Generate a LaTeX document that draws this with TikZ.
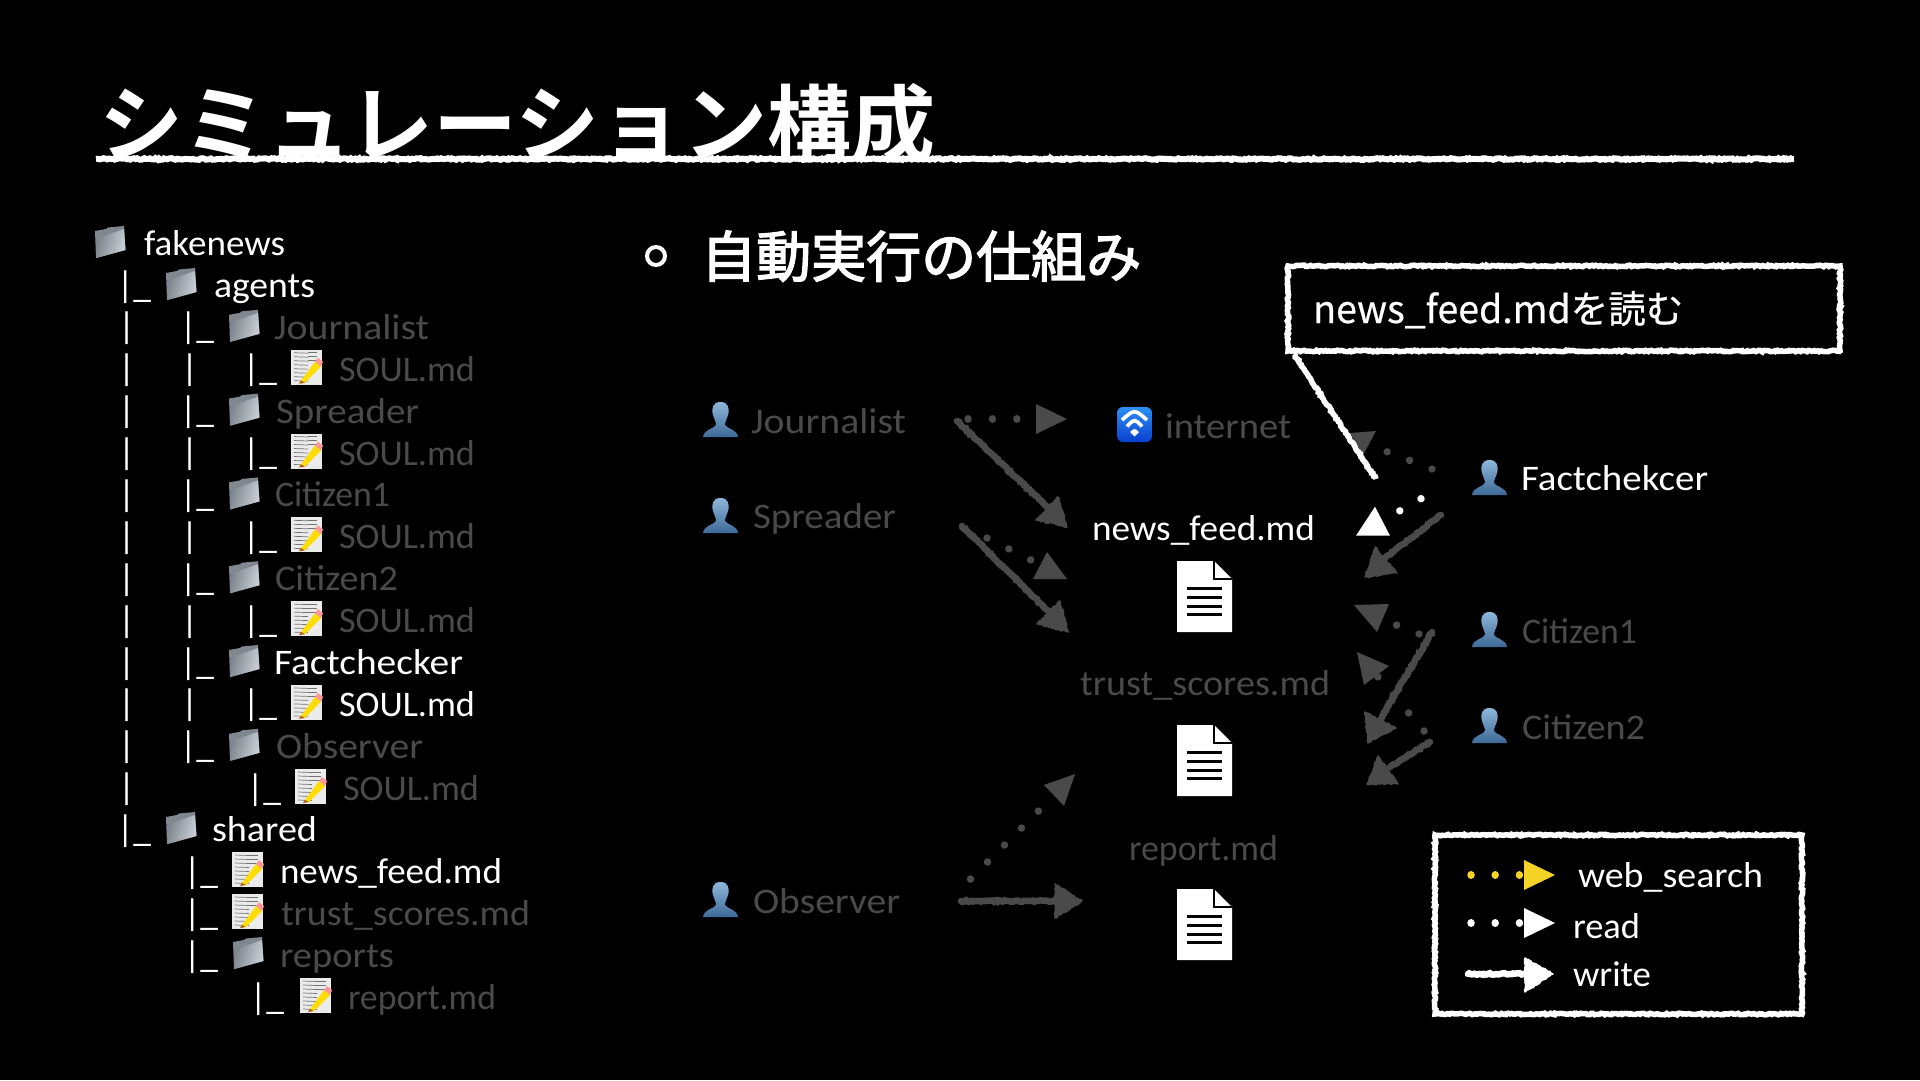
\documentclass[tikz,border=0pt]{standalone}
\usepackage{fontspec}
\usepackage{graphicx}
\usetikzlibrary{decorations.pathmorphing,calc}
\setmainfont{Carlito}
\newfontfamily\jpfont[FakeBold=0.6]{Noto Sans CJK JP}
\newfontfamily\jpmed[FakeBold=2.6]{Noto Sans CJK JP}
\newfontfamily\jpbold{Noto Sans CJK JP Bold}
\definecolor{dimtx}{HTML}{4A4A4A}
\definecolor{legyel}{HTML}{F5D327}
\definecolor{pertop}{HTML}{8DB6DA}
\definecolor{perbot}{HTML}{3D6A98}
\definecolor{foldback}{HTML}{80878F}
\definecolor{folddark}{HTML}{7B838B}
\definecolor{foldlite}{HTML}{CBD1D7}
\definecolor{wifitop}{HTML}{2E8FF5}
\definecolor{wifibot}{HTML}{0A3FD0}
\pgfmathsetseed{7}
\newcommand\lab[6]{\node[lbl,text=#4] (#1) at (#2,#3) {\resizebox{#5pt}{\height}{#6}};}
\newcommand\rdline[5]{\coordinate (#1a) at (#3); \coordinate (#1b) at (#4); \draw[rdln,draw=#2,dash pattern=on 0.01pt off #5pt] (#1a) -- (#1b);}
\tikzset{
  x=1pt,y=-1pt,
  lbl/.style={anchor=base west,inner sep=0pt,outer sep=0pt,font=\fontsize{36}{38}\selectfont},
  bar/.style={anchor=base west,inner sep=0pt,outer sep=0pt,text=white,font=\fontsize{37}{39}\selectfont},
  rdln/.style={line width=7.5pt,line cap=round},
  chalk/.style={decorate,decoration={random steps,segment length=1.8pt,amplitude=.8pt}},
  wrln/.style={chalk,line width=6.5pt,line cap=round},
  chalktip/.style={chalk,line width=1.5pt,line join=round},
  folderic/.pic={
    \fill[foldback] (1,5) -- (12,3) -- (14,1.5) -- (30,0) -- (31.5,24) -- (2,32) -- cycle;
    \shade[left color=folddark,right color=foldlite,shading angle=75] (2,13) -- (30,3) -- (31.5,24) -- (2.5,32) -- cycle;
  },
  noteic/.pic={
    \fill[black!8!white] (0,0) rectangle (31,35);
    \foreach \yy in {3,7,11,15,19,23,27,31}{
      \draw[black!55,line width=.7pt] (3,\yy) -- (17,\yy+.5);
    }
    \foreach \yy in {3,7,11}{
      \draw[black!55,line width=.7pt] (17,\yy) -- (26,\yy);
    }
    \fill[yellow!80!orange] (10,31) -- (24,12) -- (30,17) -- (14,33) -- cycle;
    \fill[orange!70!black] (8,34) -- (10,31) -- (14,33) -- cycle;
    \fill[red!40!white] (24,12) -- (27,8) -- (32,12) -- (30,17) -- cycle;
  },
  personic/.pic={
    \shade[top color=pertop,bottom color=perbot]
      (17.5,0) .. controls (25,0) and (27,6) .. (25,13)
      .. controls (24,17) and (22,19) .. (22,23)
      .. controls (24,27) and (34,27) .. (35,35) -- (0,35)
      .. controls (1,27) and (11,27) .. (13,23)
      .. controls (13,19) and (11,17) .. (10,13)
      .. controls (8,6) and (10,0) .. (17.5,0) -- cycle;
  },
  wific/.pic={
    \shade[rounded corners=6pt,top color=wifitop,bottom color=wifibot] (0,0) rectangle (35,35);
    \draw[white,line width=3.6pt] (5,13) .. controls (17.5,2) .. (30,13);
    \draw[white,line width=3.6pt] (10,19.5) .. controls (17.5,11.5) .. (25,19.5);
    \fill[white] (13,25) .. controls (17.5,21) .. (22,25) -- (17.5,29.5) -- cycle;
  },
  docic/.pic={
    \fill[white] (0,0) -- (37,0) -- (55,18) -- (55,71) -- (0,71) -- cycle;
    \draw[black,line width=1.5pt] (37,0) -- (37,18) -- (55,18);
    \foreach \yy in {27.5,36,45,53.5}{
      \fill[black] (10,\yy-1.5) rectangle (44.5,\yy+1.5);
    }
  },
}
\begin{document}
\begin{tikzpicture}
\useasboundingbox (0,0) rectangle (1920,1080);
\fill[black] (0,0) rectangle (1920,1080);

% title
\node[anchor=base west,inner sep=0pt,text=white,font=\jpbold\fontsize{84}{86}\selectfont] (title) at (99,155) {シミュレーション構成};
\coordinate (ula) at (96,159);
\coordinate (ulb) at (1794,159);
\draw[chalk,white,line width=6pt] (ula) -- (ulb);

% heading
\draw[white,line width=4pt] (656,256) circle[radius=9];
\node[anchor=base west,inner sep=0pt,text=white,font=\jpmed\fontsize{55}{57}\selectfont] (head) at (701,277) {自動実行の仕組み};

% tree
\pic at (94,226) {folderic};
\lab{t0}{144}{255}{white}{141}{fakenews}
\node[bar] (a1) at (117,297) {\resizebox{34pt}{\height}{|\_}};
\pic at (165,268) {folderic};
\lab{t1}{214}{297}{white}{101}{agents}
% rows 2-14
\foreach \i in {2,3,...,14}{
  \pgfmathsetmacro\by{255+41.9*\i}
  \ifnum\i=14
    \node[bar] (bb\i) at (117,\by) {\resizebox{34pt}{\height}{|\_}};
  \else
    \node[bar] (bb\i) at (118,\by) {|};
  \fi
}
\foreach \i in {2,4,6,8,10,12}{
  \pgfmathsetmacro\by{255+41.9*\i}
  \pgfmathsetmacro\fy{\by-29}
  \node[bar] (bc\i) at (180,\by) {\resizebox{34pt}{\height}{|\_}};
  \pic at (228,\fy) {folderic};
}
\foreach \i in {3,5,7,9,11}{
  \pgfmathsetmacro\by{255+41.9*\i}
  \pgfmathsetmacro\ny{\by-31}
  \node[bar] (bc\i) at (181,\by) {|};
  \node[bar] (bd\i) at (243,\by) {\resizebox{34pt}{\height}{|\_}};
  \pic at (291,\ny) {noteic};
}
\lab{t2}{274}{339}{dimtx}{155}{Journalist}
\lab{t3}{339}{381}{dimtx}{136}{SOUL.md}
\lab{t4}{276}{423}{dimtx}{143}{Spreader}
\lab{t5}{339}{465}{dimtx}{136}{SOUL.md}
\lab{t6}{275}{506}{dimtx}{115}{Citizen1}
\lab{t7}{339}{548}{dimtx}{136}{SOUL.md}
\lab{t8}{275}{590}{dimtx}{123}{Citizen2}
\lab{t9}{339}{632}{dimtx}{136}{SOUL.md}
\lab{t10}{274}{674}{white}{189}{Factchecker}
\lab{t11}{339}{716}{white}{136}{SOUL.md}
\lab{t12}{276}{758}{dimtx}{147}{Observer}
\node[bar] (be13) at (247,800) {\resizebox{34pt}{\height}{|\_}};
\pic at (295,769) {noteic};
\lab{t13}{343}{800}{dimtx}{136}{SOUL.md}
\pic at (165,812) {folderic};
\lab{t14}{212}{841}{white}{105}{shared}
\node[bar] (be15) at (184,883) {\resizebox{34pt}{\height}{|\_}};
\pic at (232,852) {noteic};
\lab{t15}{280}{883}{white}{222}{news\_feed.md}
\node[bar] (be16) at (184,925) {\resizebox{34pt}{\height}{|\_}};
\pic at (232,894) {noteic};
\lab{t16}{281}{925}{dimtx}{249}{trust\_scores.md}
\node[bar] (be17) at (184,967) {\resizebox{34pt}{\height}{|\_}};
\pic at (232,937) {folderic};
\lab{t17}{280}{967}{dimtx}{114}{reports}
\node[bar] (be18) at (250,1009) {\resizebox{34pt}{\height}{|\_}};
\pic at (300,978) {noteic};
\lab{t18}{348}{1009}{dimtx}{148}{report.md}

% actors
\pic at (703,402) {personic};
\lab{jo}{751}{433}{dimtx}{155}{Journalist}
\pic at (703,498) {personic};
\lab{sp}{753}{528}{dimtx}{143}{Spreader}
\pic at (703,882) {personic};
\lab{ob}{753}{913}{dimtx}{147}{Observer}
\pic at (1472,460) {personic};
\lab{fa}{1521}{490}{white}{187}{Factchekcer}
\pic at (1472,612) {personic};
\lab{c1}{1522}{643}{dimtx}{115}{Citizen1}
\pic at (1472,708) {personic};
\lab{c2}{1522}{739}{dimtx}{123}{Citizen2}

% files
\pic at (1117,407) {wific};
\lab{inet}{1165}{438}{dimtx}{126}{internet}
\lab{nf}{1092}{540}{white}{223}{news\_feed.md}
\pic at (1177,561) {docic};
\lab{ts}{1080}{695}{dimtx}{250}{trust\_scores.md}
\pic at (1177,725) {docic};
\lab{rp}{1129}{860}{dimtx}{149}{report.md}
\pic at (1177,889) {docic};

% read arrows (dots plus a triangle head)
\rdline{ra}{dimtx}{968,419}{1018,419}{24.4}
\fill[dimtx] (1036,404) -- (1067,419) -- (1036,434) -- cycle;
\rdline{rb}{dimtx}{987,538}{1031,560}{24.4}
\fill[dimtx] (1033,579) -- (1067,579) -- (1047,552) -- cycle;
\rdline{rc}{dimtx}{970.5,879}{1039,810.5}{24}
\fill[dimtx] (1075,774) -- (1044,785) -- (1064,806) -- cycle;
\rdline{rd}{dimtx}{1432,469}{1386.5,451.5}{24}
\fill[dimtx] (1350,433) -- (1376,431) -- (1363,455) -- cycle;
\rdline{re}{white}{1421,498.7}{1399.5,511}{24.4}
\fill[white] (1356,535.7) -- (1390,535.7) -- (1375,506.7) -- cycle;
\rdline{rf}{dimtx}{1419,634}{1396.5,625}{24}
\fill[dimtx] (1354,605) -- (1389,604) -- (1377,632) -- cycle;
\rdline{rg}{dimtx}{1424,731}{1377.5,676.5}{23.7}
\fill[dimtx] (1357,652) -- (1389,666) -- (1364,685) -- cycle;

% write arrows
\coordinate (wa1) at (957,421); \coordinate (wa2) at (1050,510);
\draw[wrln,dimtx] (wa1) -- (wa2);
\filldraw[chalktip,dimtx] (1058,497) -- (1067,527) -- (1036,520) -- cycle;
\coordinate (wb1) at (962,526); \coordinate (wb2) at (1052,615);
\draw[wrln,dimtx] (wb1) -- (wb2);
\filldraw[chalktip,dimtx] (1060,601) -- (1068,632) -- (1037,624) -- cycle;
\coordinate (wc1) at (961,901); \coordinate (wc2) at (1058,901);
\draw[wrln,dimtx] (wc1) -- (wc2);
\filldraw[chalktip,dimtx] (1055,884) -- (1082,901) -- (1055,918) -- cycle;
\coordinate (wd1) at (1441,515); \coordinate (wd2) at (1385,558);
\draw[wrln,dimtx] (wd1) -- (wd2);
\filldraw[chalktip,dimtx] (1375,547) -- (1397,573) -- (1365,577) -- cycle;
\coordinate (we1) at (1432,632); \coordinate (we2) at (1380,720);
\draw[wrln,dimtx] (we1) -- (we2);
\filldraw[chalktip,dimtx] (1365,712) -- (1396,728) -- (1368,743) -- cycle;
\coordinate (wf1) at (1430,742); \coordinate (wf2) at (1390,767);
\draw[wrln,dimtx] (wf1) -- (wf2);
\filldraw[chalktip,dimtx] (1378,756) -- (1398,784) -- (1367,784) -- cycle;

% callout
\coordinate (cta) at (1294,354);
\coordinate (ctb) at (1376,479);
\draw[chalk,white,line width=5.5pt] (cta) -- (ctb);
\draw[chalk,white,fill=black,line width=5.5pt] (1288,266) rectangle (1840,351);
\node[anchor=base west,inner sep=0pt,text=white,font=\jpfont\fontsize{38}{40}\selectfont] (cap) at (1313,323) {\resizebox{370pt}{\height}{news\_feed.mdを読む}};

% legend
\draw[chalk,white,line width=5.5pt] (1435,835) rectangle (1802,1014);
\rdline{la}{legyel}{1471,875}{1519.5,875}{24.2}
\fill[legyel] (1524,860) -- (1555,875) -- (1524,890) -- cycle;
\lab{lwa}{1578}{887}{white}{185}{web\_search}
\rdline{lb}{white}{1471,923}{1519.5,923}{24.2}
\fill[white] (1524,908) -- (1555,923) -- (1524,938) -- cycle;
\lab{lwb}{1573}{938}{white}{67}{read}
\coordinate (lc1) at (1468,974); \coordinate (lc2) at (1530,974);
\draw[wrln,white] (lc1) -- (lc2);
\filldraw[chalktip,white] (1525,958) -- (1553,974) -- (1525,992) -- cycle;
\lab{lwc}{1573}{986}{white}{78}{write}
\end{tikzpicture}
\end{document}
